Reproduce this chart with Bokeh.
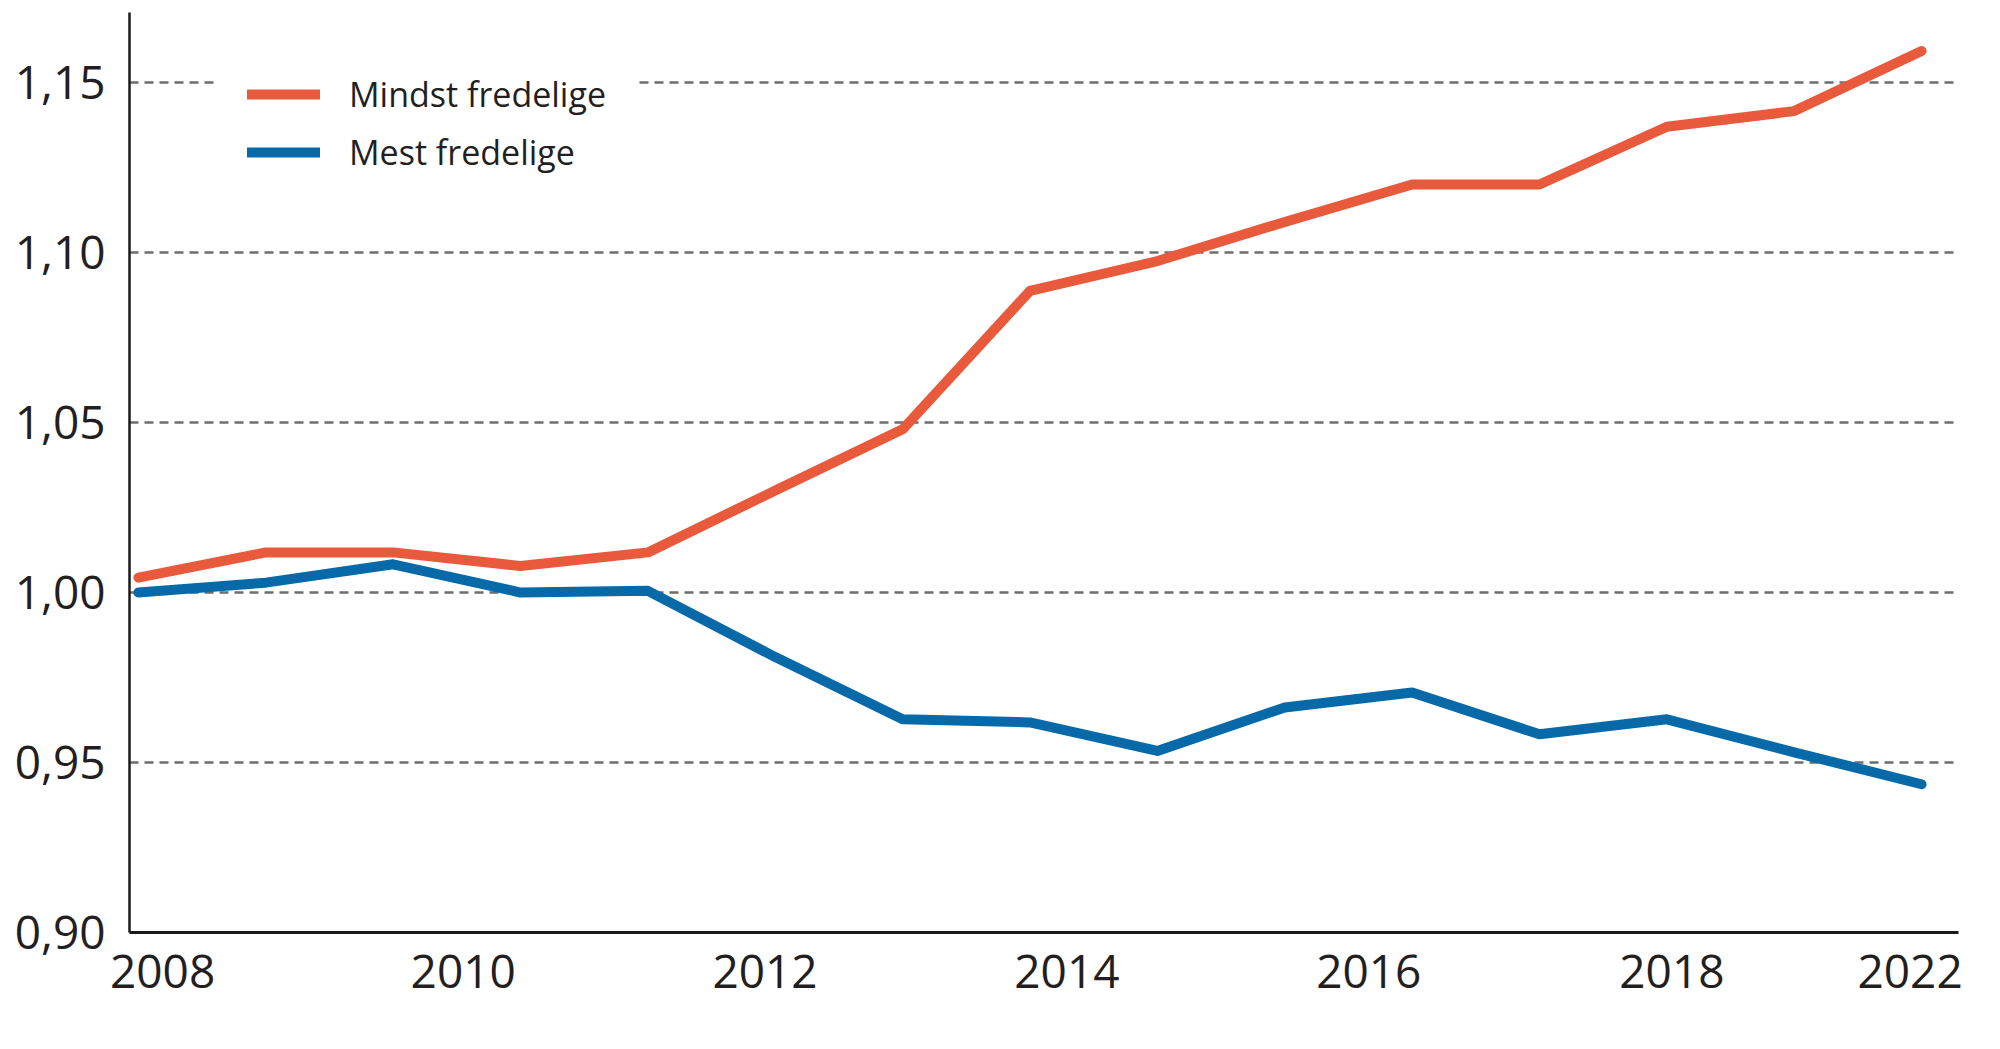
from bokeh.plotting import figure
from bokeh.models import FixedTicker, Legend, LegendItem, Range1d
from bokeh.embed import file_html
from bokeh.resources import INLINE

# ---- data ----
years = list(range(2008, 2023))
mindst_fredelige = [1.0044, 1.0118, 1.0118, 1.0078, 1.0118, 1.030, 1.048, 1.0887,
                    1.0975, 1.109, 1.120, 1.120, 1.137, 1.1416, 1.1593]
mest_fredelige = [1.000, 1.0029, 1.0083, 1.000, 1.0005, 0.981, 0.9627, 0.9618,
                  0.9534, 0.9662, 0.9706, 0.9583, 0.9627, 0.953, 0.9436]
series_names = ["Mindst fredelige", "Mest fredelige"]

x_tick_positions = [2008.19, 2010.55, 2012.92, 2015.29, 2017.66, 2020.04, 2021.91]
x_tick_labels = ["2008", "2010", "2012", "2014", "2016", "2018", "2022"]
y_ticks = [0.90, 0.95, 1.00, 1.05, 1.10, 1.15]
y_tick_labels = ["0,90", "0,95", "1,00", "1,05", "1,10", "1,15"]

ORANGE = "#e95a3c"
BLUE = "#0769a8"
TEXT = "#231f20"
FONT = "Open Sans"

p = figure(frame_width=1829, frame_height=920,
           x_range=Range1d(2007.93, 2022.29), y_range=Range1d(0.90, 1.1706),
           output_backend="svg", toolbar_location=None,
           min_border_left=129, min_border_top=12, min_border_right=20,
           min_border_bottom=96)
p.outline_line_color = None
p.background_fill_color = "white"
p.border_fill_color = "white"

# axes
p.xaxis.ticker = FixedTicker(ticks=x_tick_positions)
p.xaxis.major_label_overrides = dict(zip(x_tick_positions, x_tick_labels))
p.yaxis.ticker = FixedTicker(ticks=y_ticks)
p.yaxis.major_label_overrides = dict(zip(y_ticks, y_tick_labels))
for ax in (p.xaxis[0], p.yaxis[0]):
    ax.major_tick_line_color = None
    ax.minor_tick_line_color = None
    ax.major_tick_out = 0
    ax.major_label_text_font = FONT
    ax.major_label_text_font_size = "46px"
    ax.major_label_text_color = TEXT
    ax.axis_line_color = "#1a1a1a"
p.xaxis.axis_line_width = 3
p.yaxis.axis_line_width = 2.5
p.xaxis.major_label_standoff = 22
p.yaxis.major_label_standoff = 24

# grid
p.xgrid.grid_line_color = None
p.ygrid.grid_line_color = "#6e6e6e"
p.ygrid.grid_line_width = 2.5
p.ygrid.grid_line_dash = "9 6"

r1 = p.line(years, mindst_fredelige, line_width=10, color=ORANGE,
            line_cap="round", line_join="round")
r2 = p.line(years, mest_fredelige, line_width=10, color=BLUE,
            line_cap="round", line_join="round")

legend = Legend(items=[LegendItem(label=series_names[0], renderers=[r1]),
                       LegendItem(label=series_names[1], renderers=[r2])],
                location=(89, 726), glyph_width=73, glyph_height=50,
                label_height=50, spacing=8, padding=29, margin=0,
                label_standoff=29, label_text_font=FONT,
                label_text_font_size="34px", label_text_color=TEXT,
                border_line_alpha=0, background_fill_color="white",
                background_fill_alpha=1)
p.add_layout(legend)

open("out.html", "w").write(file_html(p, INLINE))
